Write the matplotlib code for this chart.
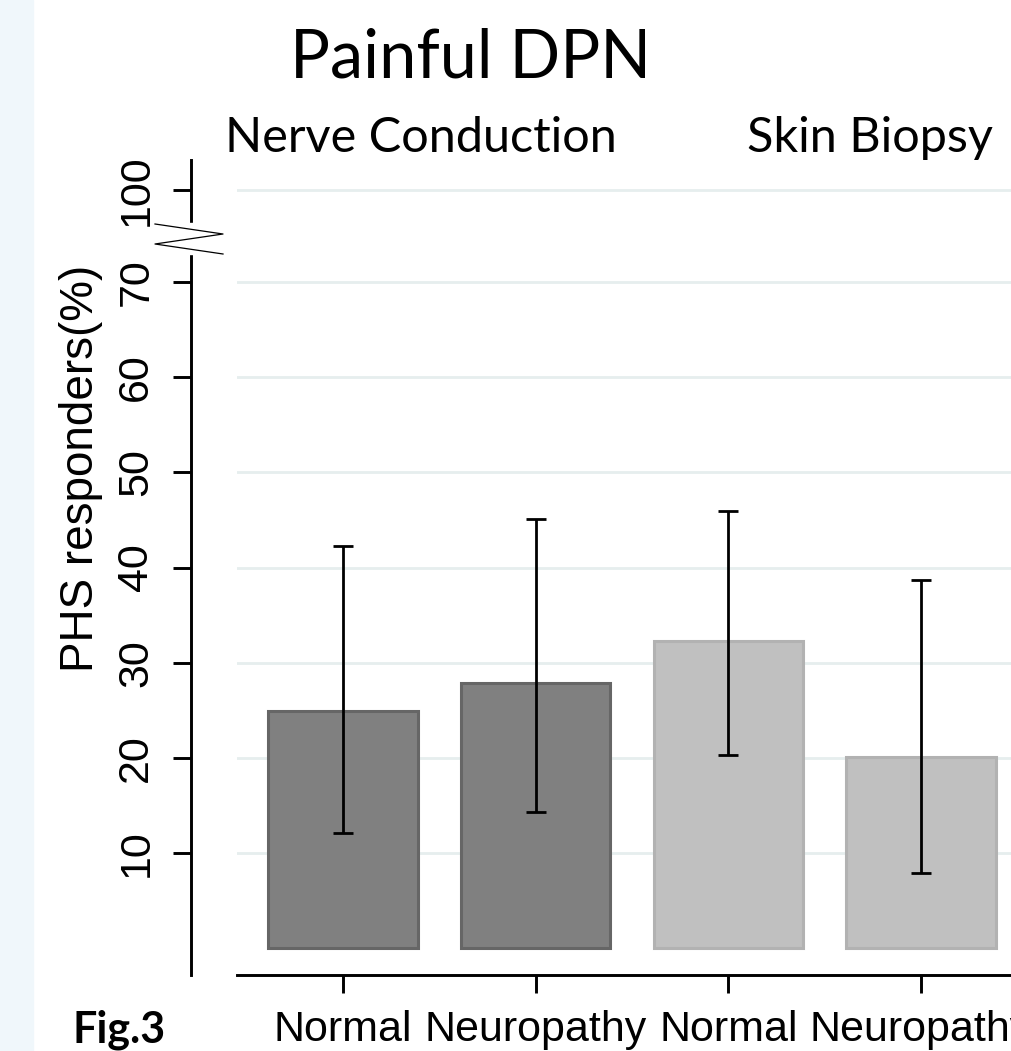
import numpy as np
import matplotlib.pyplot as plt
from matplotlib.patches import Rectangle
from matplotlib.lines import Line2D

# data
groups = ['Normal', 'Neuropathy', 'Normal', 'Neuropathy']
responders = [24.9, 27.9, 32.3, 20.1]
ci_low = [12.1, 14.3, 20.3, 7.9]
ci_high = [42.3, 45.1, 45.9, 38.7]
bar_colors = ['#808080', '#808080', '#c0c0c0', '#c0c0c0']
edge_colors = ['#666666', '#666666', '#b2b2b2', '#b2b2b2']
# the axis is broken above 70, "100" sits just above it
ytick_pos = [10, 20, 30, 40, 50, 60, 70, 79.6]
ytick_labels = ['10', '20', '30', '40', '50', '60', '70', '100']

W, H = 1012, 1051
fig = plt.figure(figsize=(W / 100, H / 100), dpi=100)
fig.patch.set_facecolor('white')

def fx(px):
    return px / W

def fy(py):
    return 1 - py / H

# light blue strip on the left edge
fig.patches.append(Rectangle((0, 0), fx(33), 1, transform=fig.transFigure,
                             color='#f0f7fb', zorder=0))

ax = fig.add_axes([fx(237), fy(975), fx(1012 - 237), (975 - 160) / H])
for s in ['top', 'right']:
    ax.spines[s].set_visible(False)
# spine position first, it resets the ticks
ax.spines['left'].set_position(('outward', 46 * 0.72))
ax.spines['left'].set_linewidth(2.1)
ax.spines['bottom'].set_linewidth(2.1)

x = np.arange(len(groups))
resp = np.array(responders)
yerr = [resp - np.array(ci_low), np.array(ci_high) - resp]

ax.bar(x, resp, width=0.775, color=bar_colors, edgecolor=edge_colors,
       linewidth=2.2, zorder=2)
ax.errorbar(x, resp, yerr=yerr, fmt='none', ecolor='black', elinewidth=2.0,
            capsize=7.2, capthick=2.0, zorder=3)

ax.set_xlim(-0.55, 3.472)
ax.set_ylim(-2.8, 82.8)

ax.set_yticks(ytick_pos)
ax.set_yticklabels(ytick_labels, family='Liberation Sans', fontsize=31,
                   rotation=90, va='center')
ax.set_xticks(x)
ax.set_xticklabels(groups, family='Liberation Sans', fontsize=31)

ax.yaxis.grid(True, color='#e6eeee', linewidth=2)
ax.set_axisbelow(True)
ax.tick_params(axis='y', length=13, width=2.1, pad=12)
ax.tick_params(axis='x', length=13, width=2.1, pad=12)

# axis break on the y axis
fig.patches.append(Rectangle((fx(180), fy(254)), fx(24), (254 - 223) / H,
                             transform=fig.transFigure, color='white', zorder=5))
fig.lines.append(Line2D([fx(155), fx(223), fx(155), fx(223)],
                        [fy(224), fy(234), fy(244), fy(254)],
                        transform=fig.transFigure, color='black', lw=0.9, zorder=6))

fig.text(fx(81), fy(468), 'PHS responders(%)', rotation=90, ha='center',
         va='center', family='Liberation Sans', fontsize=33)

fig.text(fx(471), fy(78), 'Painful DPN', ha='center', va='baseline',
         family='Lato', fontsize=48)
fig.text(fx(421), fy(152), 'Nerve Conduction', ha='center', va='baseline',
         family='Lato', fontsize=35)
fig.text(fx(870), fy(152), 'Skin Biopsy', ha='center', va='baseline',
         family='Lato', fontsize=35)
fig.text(fx(119), fy(1043), 'Fig.3', ha='center', va='baseline',
         family='Lato', fontweight='bold', fontsize=31)

fig.savefig('out.png', dpi=100)
